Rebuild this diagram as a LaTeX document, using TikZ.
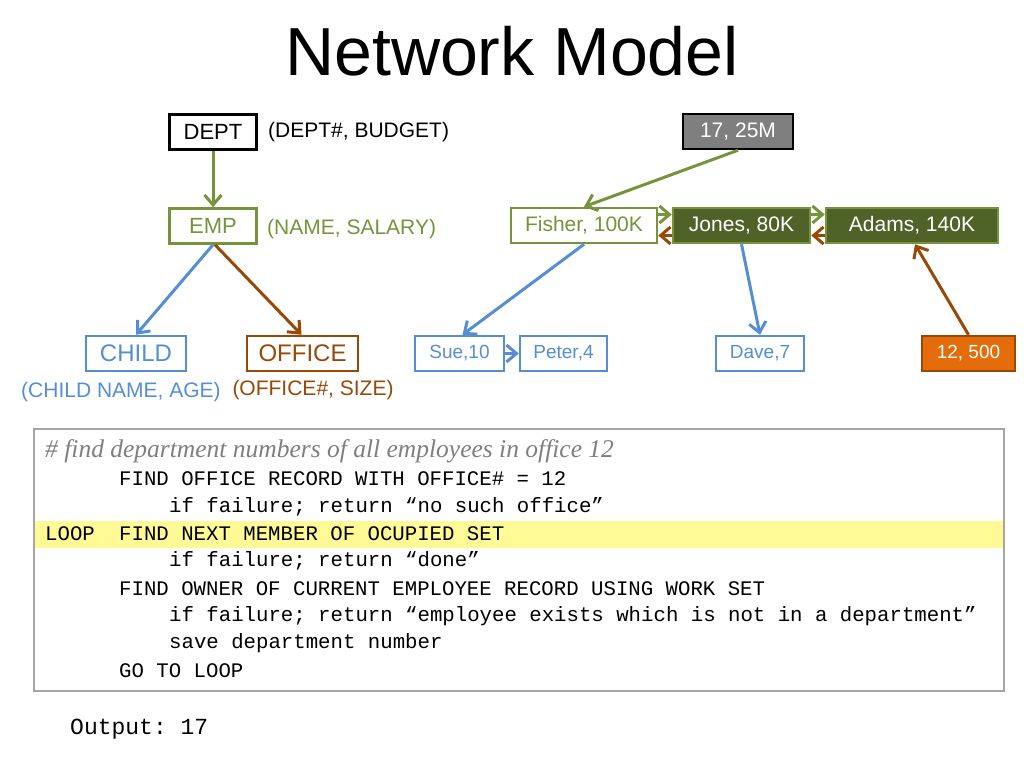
\documentclass[tikz,border=0pt]{standalone}
\usepackage{fontspec}
\setmainfont{Liberation Sans}
\setmonofont{Liberation Mono}
\newfontfamily\commentfont{Liberation Serif}
\usetikzlibrary{arrows.meta}
\definecolor{empgreen}{HTML}{77933C}
\definecolor{darkgreen}{HTML}{4F6228}
\definecolor{childblue}{HTML}{558ED5}
\definecolor{officebrown}{HTML}{984807}
\definecolor{officeorange}{HTML}{E46C0A}
\definecolor{ownergray}{HTML}{7F7F7F}
\definecolor{codeframe}{HTML}{A6A6A6}
\definecolor{loopyellow}{HTML}{FFFA96}
\newcommand{\fs}[1]{\fontsize{#1}{#1}\selectfont}
\begin{document}
\begin{tikzpicture}[x=1pt,y=-1pt,
    rec/.style={rectangle,line width=2.5pt,minimum height=35pt,inner sep=0pt},
    lbl/.style={inner sep=0pt,anchor=west,font=\fs{21}},
    code/.style={inner sep=0pt,anchor=west,font=\ttfamily\fs{20.7}}]
            \useasboundingbox (0,0) rectangle (1024,768);

            \node (title) [anchor=base,font=\fs{68}] at (512,75) {Network Model};

            % schema
            \begin{scope}[every node/.style={rec,font=\fs{22}}]
                \node (dept) [draw=black,minimum width=87pt] at (213,132) {DEPT};
                \node (emp) [draw=empgreen,text=empgreen,minimum width=87pt] at (213,226) {EMP};
                \node (child) [draw=childblue,text=childblue,minimum width=100pt,font=\fs{24}] at (136,353.5) {CHILD};
                \node (office) [draw=officebrown,text=officebrown,minimum width=111pt,font=\fs{24}] at (302.5,353.5) {OFFICE};
            \end{scope}
            \node (deptattr) [lbl] at (268,132) {(DEPT\#, BUDGET)};
            \node (empattr) [lbl,text=empgreen] at (267,229) {(NAME, SALARY)};
            \node (childattr) [lbl,anchor=center,text=childblue] at (121,392) {(CHILD NAME, AGE)};
            \node (officeattr) [lbl,anchor=center,text=officebrown] at (313,390) {(OFFICE\#, SIZE)};

            % instances
            \begin{scope}[every node/.style={rec,font=\fs{21}}]
                \node (owner) [draw=black,fill=ownergray,text=white,minimum width=110pt] at (738,131.5) {17, 25M};
                \node (fisher) [draw=empgreen,fill=white,text=empgreen,minimum width=146pt] at (584,225.5) {Fisher, 100K};
                \node (jones) [draw=empgreen,fill=darkgreen,text=white,minimum width=137pt] at (741.5,225.5) {Jones, 80K};
                \node (adams) [draw=empgreen,fill=darkgreen,text=white,minimum width=172pt] at (912,225.5) {Adams, 140K};
            \end{scope}
            \begin{scope}[every node/.style={rec,font=\fs{19}}]
                \node (sue) [draw=childblue,text=childblue,minimum width=89pt] at (459.5,353.5) {Sue,10};
                \node (peter) [draw=childblue,text=childblue,minimum width=87pt] at (563.5,353.5) {Peter,4};
                \node (dave) [draw=childblue,text=childblue,minimum width=88pt] at (760,353.5) {Dave,7};
                \node (off12) [draw=officebrown,fill=officeorange,text=white,minimum width=93pt] at (968.5,353.5) {12, 500};
            \end{scope}

            \begin{scope}[every edge/.style={draw,line width=3pt,-{Straight Barb[length=10pt,width=17pt,line width=3pt]}}]
                \path
                    (dept) edge [empgreen] (emp)
                    (emp.south) edge [childblue] (child.north)
                    ([xshift=2pt]emp.south) edge [officebrown] ([xshift=-1pt]office.north)
                    (owner.south) edge [empgreen] (fisher.north)
                    ([yshift=11pt]fisher.east) edge [empgreen] ([yshift=11pt]jones.west)
                    ([yshift=-10pt]jones.west) edge [officebrown] ([yshift=-10pt]fisher.east)
                    ([yshift=11pt]jones.east) edge [empgreen] ([yshift=11pt]adams.west)
                    ([yshift=-10pt]adams.west) edge [officebrown] ([yshift=-10pt]jones.east)
                    (fisher.south) edge [childblue] ([xshift=3pt]sue.north)
                    (sue) edge [childblue] (peter)
                    (jones.south) edge [childblue] (dave.north)
                    (off12.north) edge [officebrown] ([xshift=3pt]adams.south);
            \end{scope}

            % program
            \fill [loopyellow] (34,521) rectangle (1005,548);
            \draw [codeframe,line width=1.2pt] (34,429) rectangle (1004,691);
            \node (comment) [lbl,text=ownergray,font=\commentfont\itshape\fs{25.5}] at (45,451) {\# find department numbers of all employees in office 12};
            \node (l1) [code] at (119,479) {FIND OFFICE RECORD WITH OFFICE\# = 12};
            \node (l2) [code] at (169,507) {if failure; return “no such office”};
            \node (l3a) [code] at (45,534) {LOOP};
            \node (l3b) [code] at (119,534) {FIND NEXT MEMBER OF OCUPIED SET};
            \node (l4) [code] at (169,561) {if failure; return “done”};
            \node (l5) [code] at (119,589) {FIND OWNER OF CURRENT EMPLOYEE RECORD USING WORK SET};
            \node (l6) [code] at (169,616) {if failure; return “employee exists which is not in a department”};
            \node (l7) [code] at (169,643) {save department number};
            \node (l8) [code] at (119,671) {GO TO LOOP};

            \node (output) [code,font=\ttfamily\fs{23}] at (70,729) {Output: 17};
        \end{tikzpicture}
\end{document}
